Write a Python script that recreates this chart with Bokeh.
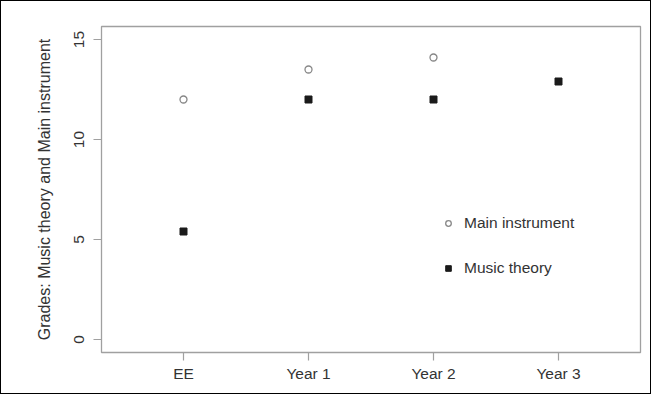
from bokeh.plotting import figure
from bokeh.models import FixedTicker, Range1d, Legend, LegendItem
from bokeh.embed import file_html
from bokeh.resources import INLINE

categories = ["EE", "Year 1", "Year 2", "Year 3"]
positions = [1, 2, 3, 4]
main_instrument = [12.0, 13.5, 14.1, None]
music_theory = [5.4, 12.0, 12.0, 12.9]
y_ticks = [0, 5, 10, 15]

FONT = "Liberation Sans"
TXT = "#333333"
GRAY = "#a0a0a0"
FS = "15.5px"

p = figure(width=651, height=394, output_backend="svg", toolbar_location=None,
           x_range=Range1d(0.344, 4.656), y_range=Range1d(-0.65, 15.65),
           min_border_left=100, min_border_right=12, min_border_top=25, min_border_bottom=43)
p.styles = {"border": "1px solid #000000"}
p.grid.visible = False
p.outline_line_color = GRAY
p.outline_line_width = 1.3

mx = [x for x, v in zip(positions, main_instrument) if v is not None]
my = [v for v in main_instrument if v is not None]
r1 = p.scatter(mx, my, marker="circle", size=7, fill_color=None, line_color="#888888", line_width=1.3)
r2 = p.scatter(positions, music_theory, marker="square", size=7, fill_color="#1a1a1a", line_color="#1a1a1a")

for ax in (p.xaxis[0], p.yaxis[0]):
    ax.axis_line_color = None
    ax.major_tick_line_color = GRAY
    ax.major_tick_line_width = 1.2
    ax.major_tick_out = 8
    ax.major_tick_in = 0
    ax.minor_tick_line_color = None
    ax.major_label_text_font = FONT
    ax.major_label_text_font_size = FS
    ax.major_label_text_color = TXT
    ax.axis_label_text_font = FONT
    ax.axis_label_text_font_style = "normal"
    ax.axis_label_text_font_size = "16px"
    ax.axis_label_text_color = TXT

p.xaxis.ticker = FixedTicker(ticks=positions)
p.xaxis.major_label_overrides = {pos: c for pos, c in zip(positions, categories)}
p.xaxis.major_label_standoff = 4

p.yaxis.ticker = FixedTicker(ticks=y_ticks)
p.yaxis.major_label_orientation = "vertical"
p.yaxis.major_label_standoff = 10
p.yaxis.axis_label = "Grades: Music theory and Main instrument"
p.yaxis.axis_label_standoff = 18

legend = Legend(items=[LegendItem(label="Main instrument", renderers=[r1]),
                       LegendItem(label="Music theory", renderers=[r2])],
                location=(340, 75), orientation="vertical")
legend.border_line_color = None
legend.background_fill_alpha = 0
legend.padding = 0
legend.margin = 0
legend.glyph_width = 14
legend.glyph_height = 18
legend.label_height = 18
legend.spacing = 27
legend.label_standoff = 9
legend.label_text_font = FONT
legend.label_text_font_size = FS
legend.label_text_color = TXT
p.add_layout(legend, "center")

open("out.html", "w").write(file_html(p, INLINE))
